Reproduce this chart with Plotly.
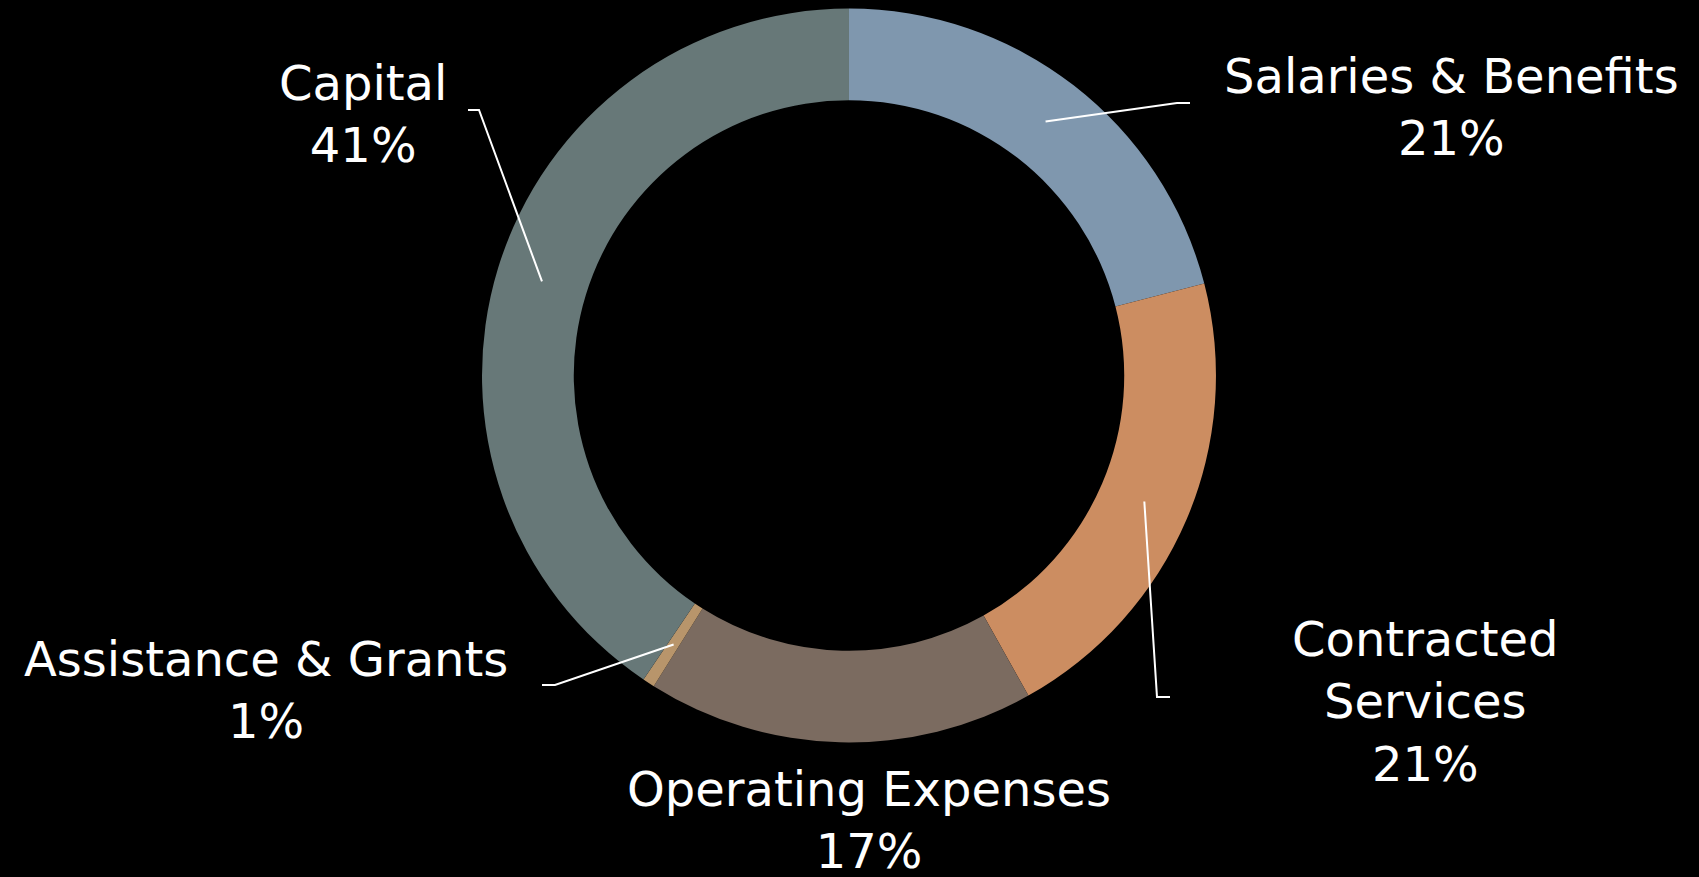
import math
import plotly.graph_objects as go

# ---- data ----
categories = ["Salaries & Benefits", "Contracted Services", "Operating Expenses",
              "Assistance & Grants", "Capital"]
shares = [20.97, 20.90, 17.06, 0.53, 40.54]
pct_labels = ["21%", "21%", "17%", "1%", "41%"]
label_lines = ["Salaries & Benefits", "Contracted<br>Services", "Operating Expenses",
               "Assistance & Grants", "Capital"]
colors = ["#7F97AE", "#CC8D61", "#7B6B60", "#B8956B", "#677878"]

# ---- layout constants ----
W, H = 1699, 877
DOMAIN_X = [0.2837, 0.7157]
DOMAIN_Y = [0.1534, 0.9903]
HOLE = 0.75
FONT = dict(family="DejaVu Sans", size=48, color="white")

# label centre (px) and leader-line elbow / end (px); None = no leader
label_layout = [
    dict(x=1451, y=107, elbow=(1177, 103), end=(1190, 103)),
    dict(x=1425, y=701, elbow=(1157, 697), end=(1170, 697)),
    dict(x=869, y=820, elbow=None, end=None),
    dict(x=266, y=690, elbow=(555, 685), end=(542, 685)),
    dict(x=363, y=114, elbow=(479, 110), end=(468, 110)),
]

fig = go.Figure(go.Pie(
    labels=categories, values=shares, sort=False, direction="clockwise",
    rotation=0, hole=HOLE, textinfo="none", hoverinfo="label+percent",
    marker=dict(colors=colors, line=dict(width=0)),
    domain=dict(x=DOMAIN_X, y=DOMAIN_Y),
))

# geometry of the ring in pixels, derived from the domain
cx = (DOMAIN_X[0] + DOMAIN_X[1]) / 2 * W
cy = (1 - (DOMAIN_Y[0] + DOMAIN_Y[1]) / 2) * H
R = min((DOMAIN_X[1] - DOMAIN_X[0]) * W, (DOMAIN_Y[1] - DOMAIN_Y[0]) * H) / 2
r_mid = R * (1 + HOLE) / 2


def to_paper(px, py):
    return px / W, 1 - py / H


total = sum(shares)
cum = 0.0
shapes, annotations = [], []
for cat, val, pct, txt, lay in zip(categories, shares, pct_labels, label_lines, label_layout):
    mid = (cum + val / 2) / total * 2 * math.pi
    cum += val
    sx = cx + r_mid * math.sin(mid)
    sy = cy - r_mid * math.cos(mid)
    if lay["elbow"] is not None:
        pts = [to_paper(sx, sy), to_paper(*lay["elbow"]), to_paper(*lay["end"])]
        path = "M {} {} L {} {} L {} {}".format(*[c for p in pts for c in p])
        shapes.append(dict(type="path", path=path, xref="paper", yref="paper",
                           line=dict(color="white", width=2)))
    ax, ay = to_paper(lay["x"], lay["y"])
    annotations.append(dict(text=f"{txt}<br>{pct}", x=ax, y=ay, xref="paper", yref="paper",
                            xanchor="center", yanchor="middle", showarrow=False,
                            font=FONT, align="center"))

fig.update_layout(
    width=W, height=H, margin=dict(l=0, r=0, t=0, b=0),
    paper_bgcolor="black", plot_bgcolor="black", showlegend=False,
    shapes=shapes, annotations=annotations,
)

fig.write_html("out.html", config={"displayModeBar": False},
               post_script="document.body.style.margin='0';document.body.style.background='black';")
